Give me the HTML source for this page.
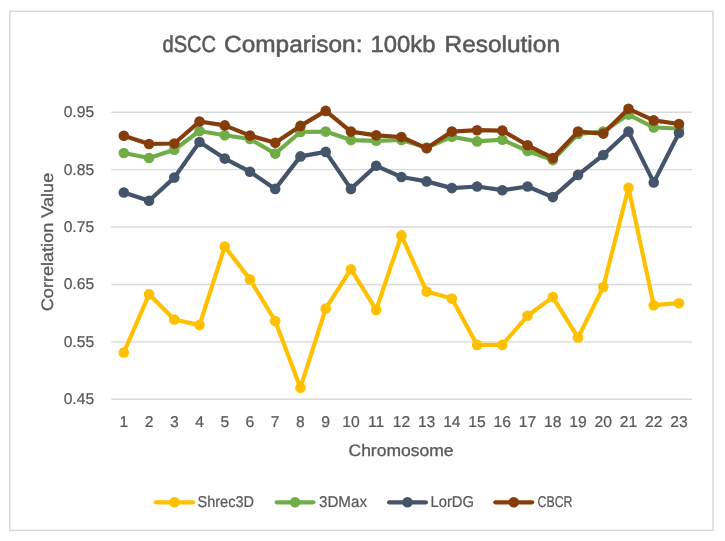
<!DOCTYPE html>
<html><head><meta charset="utf-8"><style>
html,body{margin:0;padding:0;background:#fff;width:725px;height:541px;overflow:hidden}
svg{display:block;will-change:transform}
text{font-family:"Liberation Sans",sans-serif;fill:#595959;text-rendering:geometricPrecision;stroke:#595959;stroke-width:0.3px}
.t15{font-size:15.7px;stroke-width:0.22px}
.t17{font-size:16.6px}
.title{font-size:23.2px;stroke-width:0.55px}
</style></head><body>
<svg width="725" height="541" viewBox="0 0 725 541">
<rect x="0" y="0" width="725" height="541" fill="#fff"/>
<rect x="9.8" y="11.3" width="703.2" height="519.1" fill="#fff" stroke="#d9d9d9" stroke-width="1.5"/>
<line x1="111.2" y1="112.20" x2="692.0" y2="112.20" stroke="#d9d9d9" stroke-width="1.4"/>
<line x1="111.2" y1="169.62" x2="692.0" y2="169.62" stroke="#d9d9d9" stroke-width="1.4"/>
<line x1="111.2" y1="227.04" x2="692.0" y2="227.04" stroke="#d9d9d9" stroke-width="1.4"/>
<line x1="111.2" y1="284.46" x2="692.0" y2="284.46" stroke="#d9d9d9" stroke-width="1.4"/>
<line x1="111.2" y1="341.88" x2="692.0" y2="341.88" stroke="#d9d9d9" stroke-width="1.4"/>
<line x1="111.2" y1="399.30" x2="692.0" y2="399.30" stroke="#d9d9d9" stroke-width="1.4"/>
<polyline points="123.82,352.50 149.05,294.30 174.29,319.50 199.52,325.10 224.76,246.50 249.99,279.40 275.23,321.00 300.46,387.70 325.70,308.60 350.93,269.20 376.17,309.90 401.40,235.40 426.63,291.60 451.87,298.60 477.10,344.90 502.34,344.90 527.57,315.80 552.81,297.10 578.04,337.60 603.28,287.00 628.51,187.70 653.75,305.20 678.98,303.20" fill="none" stroke="#FFC000" stroke-width="4.2" stroke-linejoin="round" stroke-linecap="round"/>
<circle cx="123.82" cy="352.50" r="5.3" fill="#FFC000"/>
<circle cx="149.05" cy="294.30" r="5.3" fill="#FFC000"/>
<circle cx="174.29" cy="319.50" r="5.3" fill="#FFC000"/>
<circle cx="199.52" cy="325.10" r="5.3" fill="#FFC000"/>
<circle cx="224.76" cy="246.50" r="5.3" fill="#FFC000"/>
<circle cx="249.99" cy="279.40" r="5.3" fill="#FFC000"/>
<circle cx="275.23" cy="321.00" r="5.3" fill="#FFC000"/>
<circle cx="300.46" cy="387.70" r="5.3" fill="#FFC000"/>
<circle cx="325.70" cy="308.60" r="5.3" fill="#FFC000"/>
<circle cx="350.93" cy="269.20" r="5.3" fill="#FFC000"/>
<circle cx="376.17" cy="309.90" r="5.3" fill="#FFC000"/>
<circle cx="401.40" cy="235.40" r="5.3" fill="#FFC000"/>
<circle cx="426.63" cy="291.60" r="5.3" fill="#FFC000"/>
<circle cx="451.87" cy="298.60" r="5.3" fill="#FFC000"/>
<circle cx="477.10" cy="344.90" r="5.3" fill="#FFC000"/>
<circle cx="502.34" cy="344.90" r="5.3" fill="#FFC000"/>
<circle cx="527.57" cy="315.80" r="5.3" fill="#FFC000"/>
<circle cx="552.81" cy="297.10" r="5.3" fill="#FFC000"/>
<circle cx="578.04" cy="337.60" r="5.3" fill="#FFC000"/>
<circle cx="603.28" cy="287.00" r="5.3" fill="#FFC000"/>
<circle cx="628.51" cy="187.70" r="5.3" fill="#FFC000"/>
<circle cx="653.75" cy="305.20" r="5.3" fill="#FFC000"/>
<circle cx="678.98" cy="303.20" r="5.3" fill="#FFC000"/>
<polyline points="123.82,153.00 149.05,158.00 174.29,149.70 199.52,131.00 224.76,135.20 249.99,139.00 275.23,153.60 300.46,132.00 325.70,131.60 350.93,140.10 376.17,140.80 401.40,140.00 426.63,147.50 451.87,136.70 477.10,141.40 502.34,139.70 527.57,151.00 552.81,160.10 578.04,134.00 603.28,131.60 628.51,114.60 653.75,127.50 678.98,128.50" fill="none" stroke="#70AD47" stroke-width="4.2" stroke-linejoin="round" stroke-linecap="round"/>
<circle cx="123.82" cy="153.00" r="5.3" fill="#70AD47"/>
<circle cx="149.05" cy="158.00" r="5.3" fill="#70AD47"/>
<circle cx="174.29" cy="149.70" r="5.3" fill="#70AD47"/>
<circle cx="199.52" cy="131.00" r="5.3" fill="#70AD47"/>
<circle cx="224.76" cy="135.20" r="5.3" fill="#70AD47"/>
<circle cx="249.99" cy="139.00" r="5.3" fill="#70AD47"/>
<circle cx="275.23" cy="153.60" r="5.3" fill="#70AD47"/>
<circle cx="300.46" cy="132.00" r="5.3" fill="#70AD47"/>
<circle cx="325.70" cy="131.60" r="5.3" fill="#70AD47"/>
<circle cx="350.93" cy="140.10" r="5.3" fill="#70AD47"/>
<circle cx="376.17" cy="140.80" r="5.3" fill="#70AD47"/>
<circle cx="401.40" cy="140.00" r="5.3" fill="#70AD47"/>
<circle cx="426.63" cy="147.50" r="5.3" fill="#70AD47"/>
<circle cx="451.87" cy="136.70" r="5.3" fill="#70AD47"/>
<circle cx="477.10" cy="141.40" r="5.3" fill="#70AD47"/>
<circle cx="502.34" cy="139.70" r="5.3" fill="#70AD47"/>
<circle cx="527.57" cy="151.00" r="5.3" fill="#70AD47"/>
<circle cx="552.81" cy="160.10" r="5.3" fill="#70AD47"/>
<circle cx="578.04" cy="134.00" r="5.3" fill="#70AD47"/>
<circle cx="603.28" cy="131.60" r="5.3" fill="#70AD47"/>
<circle cx="628.51" cy="114.60" r="5.3" fill="#70AD47"/>
<circle cx="653.75" cy="127.50" r="5.3" fill="#70AD47"/>
<circle cx="678.98" cy="128.50" r="5.3" fill="#70AD47"/>
<polyline points="123.82,192.50 149.05,200.70 174.29,177.60 199.52,142.00 224.76,158.60 249.99,171.70 275.23,188.90 300.46,156.40 325.70,151.90 350.93,188.90 376.17,165.80 401.40,177.00 426.63,181.40 451.87,188.10 477.10,186.50 502.34,190.20 527.57,186.50 552.81,197.10 578.04,174.90 603.28,155.00 628.51,131.60 653.75,182.40 678.98,133.00" fill="none" stroke="#44546A" stroke-width="4.2" stroke-linejoin="round" stroke-linecap="round"/>
<circle cx="123.82" cy="192.50" r="5.3" fill="#44546A"/>
<circle cx="149.05" cy="200.70" r="5.3" fill="#44546A"/>
<circle cx="174.29" cy="177.60" r="5.3" fill="#44546A"/>
<circle cx="199.52" cy="142.00" r="5.3" fill="#44546A"/>
<circle cx="224.76" cy="158.60" r="5.3" fill="#44546A"/>
<circle cx="249.99" cy="171.70" r="5.3" fill="#44546A"/>
<circle cx="275.23" cy="188.90" r="5.3" fill="#44546A"/>
<circle cx="300.46" cy="156.40" r="5.3" fill="#44546A"/>
<circle cx="325.70" cy="151.90" r="5.3" fill="#44546A"/>
<circle cx="350.93" cy="188.90" r="5.3" fill="#44546A"/>
<circle cx="376.17" cy="165.80" r="5.3" fill="#44546A"/>
<circle cx="401.40" cy="177.00" r="5.3" fill="#44546A"/>
<circle cx="426.63" cy="181.40" r="5.3" fill="#44546A"/>
<circle cx="451.87" cy="188.10" r="5.3" fill="#44546A"/>
<circle cx="477.10" cy="186.50" r="5.3" fill="#44546A"/>
<circle cx="502.34" cy="190.20" r="5.3" fill="#44546A"/>
<circle cx="527.57" cy="186.50" r="5.3" fill="#44546A"/>
<circle cx="552.81" cy="197.10" r="5.3" fill="#44546A"/>
<circle cx="578.04" cy="174.90" r="5.3" fill="#44546A"/>
<circle cx="603.28" cy="155.00" r="5.3" fill="#44546A"/>
<circle cx="628.51" cy="131.60" r="5.3" fill="#44546A"/>
<circle cx="653.75" cy="182.40" r="5.3" fill="#44546A"/>
<circle cx="678.98" cy="133.00" r="5.3" fill="#44546A"/>
<polyline points="123.82,135.70 149.05,144.00 174.29,143.50 199.52,121.50 224.76,125.40 249.99,135.60 275.23,142.80 300.46,125.90 325.70,110.90 350.93,131.60 376.17,135.30 401.40,137.00 426.63,148.30 451.87,131.60 477.10,130.20 502.34,130.60 527.57,145.30 552.81,158.00 578.04,131.60 603.28,133.60 628.51,108.80 653.75,120.40 678.98,124.00" fill="none" stroke="#863D0B" stroke-width="4.2" stroke-linejoin="round" stroke-linecap="round"/>
<circle cx="123.82" cy="135.70" r="5.3" fill="#863D0B"/>
<circle cx="149.05" cy="144.00" r="5.3" fill="#863D0B"/>
<circle cx="174.29" cy="143.50" r="5.3" fill="#863D0B"/>
<circle cx="199.52" cy="121.50" r="5.3" fill="#863D0B"/>
<circle cx="224.76" cy="125.40" r="5.3" fill="#863D0B"/>
<circle cx="249.99" cy="135.60" r="5.3" fill="#863D0B"/>
<circle cx="275.23" cy="142.80" r="5.3" fill="#863D0B"/>
<circle cx="300.46" cy="125.90" r="5.3" fill="#863D0B"/>
<circle cx="325.70" cy="110.90" r="5.3" fill="#863D0B"/>
<circle cx="350.93" cy="131.60" r="5.3" fill="#863D0B"/>
<circle cx="376.17" cy="135.30" r="5.3" fill="#863D0B"/>
<circle cx="401.40" cy="137.00" r="5.3" fill="#863D0B"/>
<circle cx="426.63" cy="148.30" r="5.3" fill="#863D0B"/>
<circle cx="451.87" cy="131.60" r="5.3" fill="#863D0B"/>
<circle cx="477.10" cy="130.20" r="5.3" fill="#863D0B"/>
<circle cx="502.34" cy="130.60" r="5.3" fill="#863D0B"/>
<circle cx="527.57" cy="145.30" r="5.3" fill="#863D0B"/>
<circle cx="552.81" cy="158.00" r="5.3" fill="#863D0B"/>
<circle cx="578.04" cy="131.60" r="5.3" fill="#863D0B"/>
<circle cx="603.28" cy="133.60" r="5.3" fill="#863D0B"/>
<circle cx="628.51" cy="108.80" r="5.3" fill="#863D0B"/>
<circle cx="653.75" cy="120.40" r="5.3" fill="#863D0B"/>
<circle cx="678.98" cy="124.00" r="5.3" fill="#863D0B"/>
<text x="94.2" y="117.10" text-anchor="end" class="t15">0.95</text>
<text x="94.2" y="174.52" text-anchor="end" class="t15">0.85</text>
<text x="94.2" y="231.94" text-anchor="end" class="t15">0.75</text>
<text x="94.2" y="289.36" text-anchor="end" class="t15">0.65</text>
<text x="94.2" y="346.78" text-anchor="end" class="t15">0.55</text>
<text x="94.2" y="404.20" text-anchor="end" class="t15">0.45</text>
<text x="123.82" y="427.2" text-anchor="middle" class="t15">1</text>
<text x="149.05" y="427.2" text-anchor="middle" class="t15">2</text>
<text x="174.29" y="427.2" text-anchor="middle" class="t15">3</text>
<text x="199.52" y="427.2" text-anchor="middle" class="t15">4</text>
<text x="224.76" y="427.2" text-anchor="middle" class="t15">5</text>
<text x="249.99" y="427.2" text-anchor="middle" class="t15">6</text>
<text x="275.23" y="427.2" text-anchor="middle" class="t15">7</text>
<text x="300.46" y="427.2" text-anchor="middle" class="t15">8</text>
<text x="325.70" y="427.2" text-anchor="middle" class="t15">9</text>
<text x="350.93" y="427.2" text-anchor="middle" class="t15">10</text>
<text x="376.17" y="427.2" text-anchor="middle" class="t15">11</text>
<text x="401.40" y="427.2" text-anchor="middle" class="t15">12</text>
<text x="426.63" y="427.2" text-anchor="middle" class="t15">13</text>
<text x="451.87" y="427.2" text-anchor="middle" class="t15">14</text>
<text x="477.10" y="427.2" text-anchor="middle" class="t15">15</text>
<text x="502.34" y="427.2" text-anchor="middle" class="t15">16</text>
<text x="527.57" y="427.2" text-anchor="middle" class="t15">17</text>
<text x="552.81" y="427.2" text-anchor="middle" class="t15">18</text>
<text x="578.04" y="427.2" text-anchor="middle" class="t15">19</text>
<text x="603.28" y="427.2" text-anchor="middle" class="t15">20</text>
<text x="628.51" y="427.2" text-anchor="middle" class="t15">21</text>
<text x="653.75" y="427.2" text-anchor="middle" class="t15">22</text>
<text x="678.98" y="427.2" text-anchor="middle" class="t15">23</text>
<text x="162.5" y="51.6" class="title" textLength="53.5" lengthAdjust="spacingAndGlyphs">dSCC</text>
<text x="224.0" y="51.6" class="title" textLength="138.5" lengthAdjust="spacingAndGlyphs">Comparison:</text>
<text x="370.5" y="51.6" class="title" textLength="65.0" lengthAdjust="spacingAndGlyphs">100kb</text>
<text x="444.5" y="51.6" class="title" textLength="115.5" lengthAdjust="spacingAndGlyphs">Resolution</text>
<text transform="translate(52.8,242) rotate(-90)" x="0" y="0" text-anchor="middle" class="t17" textLength="138.5" lengthAdjust="spacingAndGlyphs">Correlation Value</text>
<text x="348.5" y="456.1" class="t17" textLength="105.0" lengthAdjust="spacingAndGlyphs">Chromosome</text>
<line x1="155.9" y1="502.3" x2="193.1" y2="502.3" stroke="#FFC000" stroke-width="4.2" stroke-linecap="round"/>
<circle cx="174.50" cy="502.3" r="5.3" fill="#FFC000"/>
<text x="197.5" y="507" class="t15" textLength="56.5" lengthAdjust="spacingAndGlyphs">Shrec3D</text>
<line x1="276.70000000000005" y1="502.3" x2="313.4" y2="502.3" stroke="#70AD47" stroke-width="4.2" stroke-linecap="round"/>
<circle cx="295.05" cy="502.3" r="5.3" fill="#70AD47"/>
<text x="319.0" y="507" class="t15" textLength="48.0" lengthAdjust="spacingAndGlyphs">3DMax</text>
<line x1="389.1" y1="502.3" x2="425.9" y2="502.3" stroke="#44546A" stroke-width="4.2" stroke-linecap="round"/>
<circle cx="407.50" cy="502.3" r="5.3" fill="#44546A"/>
<text x="430.5" y="507" class="t15" textLength="43.5" lengthAdjust="spacingAndGlyphs">LorDG</text>
<line x1="495.3" y1="502.3" x2="532.1999999999999" y2="502.3" stroke="#863D0B" stroke-width="4.2" stroke-linecap="round"/>
<circle cx="513.75" cy="502.3" r="5.3" fill="#863D0B"/>
<text x="537.5" y="507" class="t15" textLength="35.0" lengthAdjust="spacingAndGlyphs">CBCR</text>
</svg>
</body></html>
